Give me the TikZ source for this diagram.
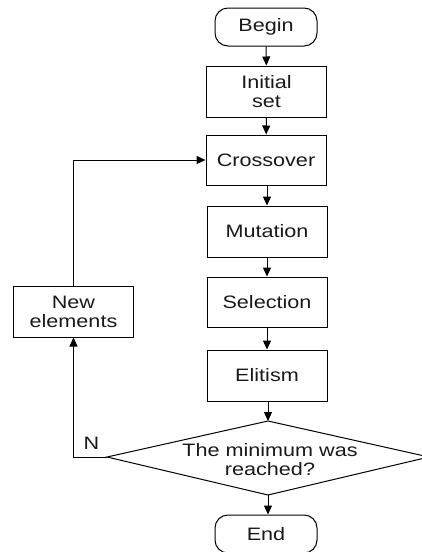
\documentclass[tikz,border=0pt]{standalone}
\usepackage{fontspec}
\setmainfont{Liberation Sans}[FakeStretch=1.2]
\usetikzlibrary{arrows.meta}
\begin{document}
\begin{tikzpicture}[x=1pt,y=-1pt,
  every node/.style={font=\fontsize{18}{19}\selectfont, text=black!90, align=center, inner sep=0pt},
  box/.style={draw, line width=1pt, minimum width=120pt, minimum height=51pt},
  term/.style={draw, line width=1pt, rounded corners=13pt, minimum width=102pt, minimum height=38pt},
  arr/.style={line width=1pt, -{Triangle[length=9pt,width=8pt]}},
  ln/.style={line width=1pt}]
\useasboundingbox (0,0) rectangle (422,552);
\node[term] (begin) at (266,27) {Begin};
\node[box] (init) at (266.5,91.5) {Initial\\set};
\node[box, minimum height=50pt] (cross) at (266,160) {Crossover};
\node[box] (mut) at (267,231.5) {Mutation};
\node[box, minimum height=50pt] (sel) at (267,302) {Selection};
\node[box] (elit) at (267,375.5) {Elitism};
\coordinate (dt) at (268,421);
\coordinate (dr) at (429,457);
\coordinate (db) at (268,495);
\coordinate (dl) at (107,457);
\draw[ln] (dl) -- (dt) -- (dr) -- (db) -- cycle;
\node (dec) at (270,460) {The minimum was\\reached?};
\node[term] (end) at (266,534) {End};
\node[box] (newel) at (73.5,311.5) {New\\elements};
\node (n) at (91.5,443.5) {N};
\draw[arr] (begin) -- (init);
\draw[arr] (init) -- (cross);
\draw[arr] (cross.south -| mut.north) -- (mut);
\draw[arr] (mut) -- (sel);
\draw[arr] (sel) -- (elit);
\draw[arr] (elit.south -| dt) -- (dt);
\draw[arr] (db) -- (db |- end.north);
\draw[arr] (dl) -| (newel.south);
\draw[arr] (newel.north) |- (cross.west);
\end{tikzpicture}
\end{document}
